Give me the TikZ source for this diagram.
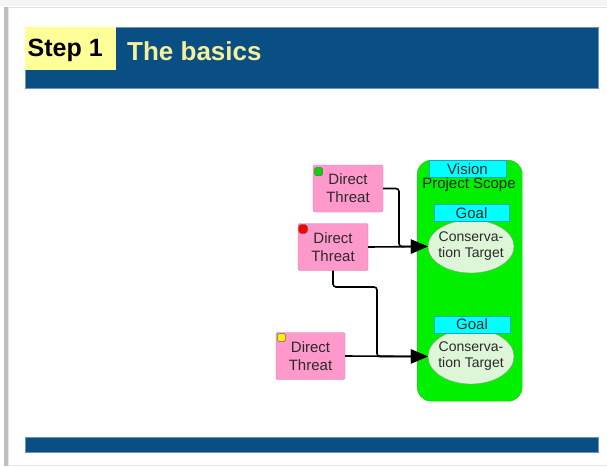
\documentclass[tikz,border=0pt]{standalone}
\usepackage{fontspec}
\setmainfont{Liberation Sans}
\usetikzlibrary{arrows.meta,shapes.geometric,calc}

\definecolor{barblue}{HTML}{0A4F84}
\definecolor{stepyellow}{HTML}{FFFF99}
\definecolor{titleyellow}{HTML}{F4F09C}
\definecolor{threatpink}{HTML}{FF99CC}
\definecolor{threatedge}{HTML}{C87CA6}
\definecolor{scopegreen}{HTML}{00F000}
\definecolor{scopeedge}{HTML}{2CB82C}
\definecolor{tagcyan}{HTML}{00FFFF}
\definecolor{tagedge}{HTML}{1AA8B8}
\definecolor{targetfill}{HTML}{DDF6D8}
\definecolor{targetedge}{HTML}{8A9A8A}
\definecolor{inkgray}{HTML}{2A2A2A}

% a line of text that takes no width, so the ellipse keeps its set size
\newcommand{\slimline}[1]{\makebox[0pt][c]{#1}}

\tikzset{
  threat/.style={draw=threatedge, fill=threatpink, rounded corners=2pt,
    minimum width=70pt, minimum height=47pt, inner sep=0pt, align=center,
    text=inkgray, font=\fontsize{15}{18}\selectfont},
  marker/.style={draw=black!60, rounded corners=1.5pt, minimum size=8pt,
    inner sep=0pt, line width=0.5pt},
  tag/.style={draw=tagedge, fill=tagcyan, minimum height=17pt, inner sep=0pt,
    text=inkgray, font=\fontsize{15}{16}\selectfont},
  target/.style={ellipse, draw=targetedge, fill=targetfill, minimum width=86pt,
    minimum height=53pt, inner sep=0pt, align=center, text=inkgray,
    font=\fontsize{14}{16}\selectfont},
  link/.style={draw=black, line width=1.6pt, rounded corners=3pt},
  flow/.style={link, -{Triangle[length=17pt,width=14pt]}},
}

\begin{document}
\begin{tikzpicture}[x=1pt,y=-1pt]
\useasboundingbox (0,0) rectangle (607,466);
\fill[white] (0,0) rectangle (607,466);

% slide edges
\fill[black!4] (0,0) rectangle (607,6);
\draw[black!12, line width=1pt] (6,7) -- (607,7);
\fill[black!25] (4,7) rectangle (7.5,466);
\fill[black!10] (7.5,7) rectangle (9,466);
\draw[black!10, line width=0.8pt] (8,465) -- (607,465);

% header bar
\node (bar) [fill=barblue, draw=barblue!60, line width=0.5pt, minimum width=573pt,
  minimum height=61pt, inner sep=0pt, anchor=north west] at (24.5,27) {};
\node (stepbox) [fill=stepyellow, minimum width=91.5pt, minimum height=43pt,
  inner sep=0pt, anchor=north west] at (24.5,27) {};
\node (steplabel) [anchor=west, inner sep=0pt, font=\fontsize{25}{25}\selectfont\bfseries]
  at (27.5,50) {Step 1};
\node (title) [anchor=west, inner sep=0pt, text=titleyellow,
  font=\fontsize{26}{26}\selectfont\bfseries] at (127,51) {The basics};

% footer bar
\node (footer) [fill=barblue, draw=barblue!60, line width=0.5pt, minimum width=573pt,
  minimum height=15pt, inner sep=0pt, anchor=north west] at (24.5,437) {};

% project scope
\node (scope) [draw=scopeedge, fill=scopegreen, rounded corners=14pt,
  minimum width=105pt, minimum height=241pt, inner sep=0pt, anchor=north west]
  at (417,160) {};
\node (vision) [tag, minimum width=77pt, anchor=north] at (467.5,160) {Vision};
\node (scopelabel) [inner sep=0pt, text=black!85, font=\fontsize{15}{16}\selectfont]
  at (469,185) {Project Scope};

% conservation targets with their goals
\node (ct1) [target] at (471,246.5) {\slimline{Conserva-}\\\slimline{tion Target}};
\node (goal1) [tag, minimum width=75pt, anchor=north] at (471.5,204) {Goal};
\node (ct2) [target, minimum height=55pt] at (471,356.5)
  {\slimline{Conserva-}\\\slimline{tion Target}};
\node (goal2) [tag, minimum width=76pt, anchor=north] at (472,315.5) {Goal};

% direct threats
\node (dt1) [threat] at (348,188.5) {Direct\\Threat};
\node (dt2) [threat] at (333,247) {Direct\\Threat};
\node (dt3) [threat, minimum width=69pt] at (310.5,356) {Direct\\Threat};

\node (m1) [marker, fill=green!85!black] at (318.5,171.5) {};
\node (m2) [marker, fill=red, rounded corners=3pt, minimum size=9pt] at (303,229) {};
\node (m3) [marker, fill=yellow] at (281.5,337.5) {};

% connectors
\coordinate (j1) at (399,188.5);
\coordinate (j2) at (377,287);
\draw[flow] (dt1.east) -- (j1) |- (ct1.west);
\draw[flow] (dt2.east) -- (ct1.west);
\draw[flow] (dt2.south) |- (j2) |- (ct2.west);
\draw[flow] (dt3.east) -- (ct2.west);
\end{tikzpicture}
\end{document}
